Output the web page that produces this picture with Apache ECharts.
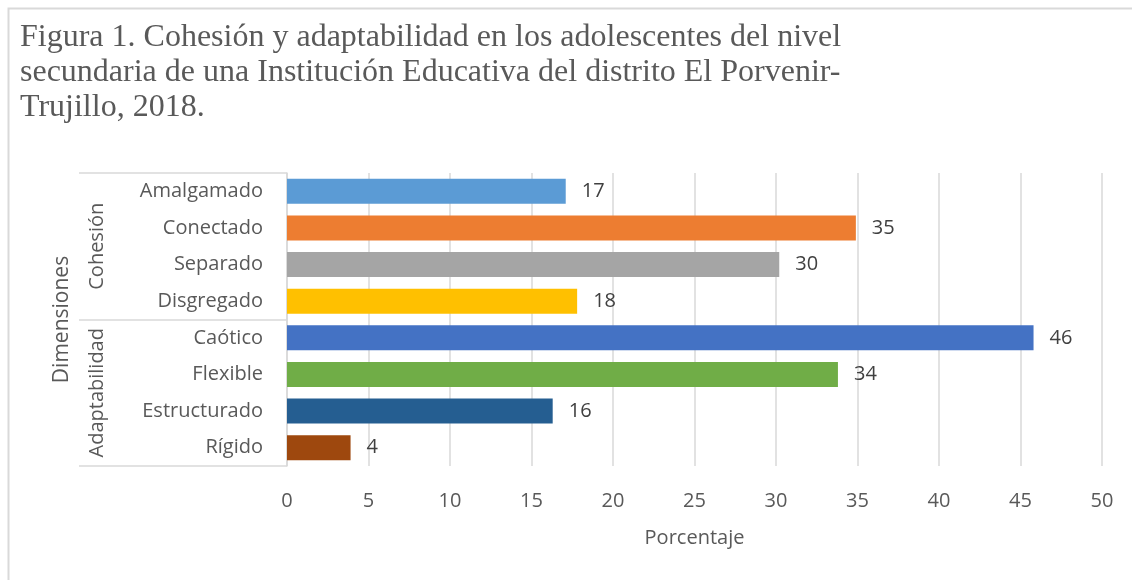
<!DOCTYPE html>
<html>
<head>
<meta charset="utf-8">
<script src="https://cdn.jsdelivr.net/npm/echarts@6/dist/echarts.min.js"></script>
<style>
html,body{margin:0;padding:0;background:#fff;}
#chart{width:1132px;height:580px;}
</style>
</head>
<body>
<div id="chart"></div>
<script>
const titleText = 'Figura 1. Cohesión y adaptabilidad en los adolescentes del nivel\nsecundaria de una Institución Educativa del distrito El Porvenir-\nTrujillo, 2018.';
const categories = ['Amalgamado','Conectado','Separado','Disgregado','Caótico','Flexible','Estructurado','Rígido'];
const groups = ['Cohesión','Adaptabilidad'];
const values = [17.1, 34.9, 30.2, 17.8, 45.8, 33.8, 16.3, 3.9];
const colors = ['#5B9BD5','#ED7D31','#A5A5A5','#FFC000','#4472C4','#70AD47','#255E91','#9E480E'];
const xTicks = {min:0, max:50, interval:5};
const xName = 'Porcentaje';
const yName = 'Dimensiones';

const chart = echarts.init(document.getElementById('chart'), null, {renderer:'canvas'});
const sans = '"Open Sans", "Noto Sans", sans-serif';
chart.setOption({
  animation:false,
  backgroundColor:'#fff',
  title:{
    text:titleText, left:15, top:15,
    textStyle:{fontFamily:'"Liberation Serif", serif', fontSize:32, fontWeight:'normal', color:'#595959', lineHeight:35}
  },
  graphic:[{
    type:'rect', shape:{x:8.5,y:8.5,width:1140,height:600},
    style:{fill:'none', stroke:'#d9d9d9', lineWidth:2}, silent:true
  }],
  grid:{left:287, right:30, top:173, bottom:114, containLabel:false},
  xAxis:{
    type:'value', min:xTicks.min, max:xTicks.max, interval:xTicks.interval,
    axisLine:{show:false}, axisTick:{show:false},
    splitLine:{lineStyle:{color:'#d9d9d9', width:1.5}},
    axisLabel:{fontFamily:sans, fontSize:20, color:'#595959', margin:25},
    name:xName, nameLocation:'middle', nameGap:62,
    nameTextStyle:{fontFamily:sans, fontSize:20, color:'#595959'}
  },
  yAxis:[{
    type:'category', data:categories, inverse:true,
    axisLine:{show:true, lineStyle:{color:'#d9d9d9', width:1.5}},
    axisTick:{show:false},
    axisLabel:{fontFamily:sans, fontSize:20, color:'#595959', margin:24, interval:0}
  },{
    type:'category', data:groups, inverse:true, position:'left', offset:0,
    axisLine:{show:false},
    axisTick:{show:true, interval:0, length:208, lineStyle:{color:'#d9d9d9', width:1.5}},
    axisLabel:{fontFamily:sans, fontSize:20, color:'#595959', rotate:90, margin:180, interval:0, hideOverlap:false},
    name:yName, nameLocation:'middle', nameGap:214, nameRotate:90,
    nameTextStyle:{fontFamily:sans, fontSize:21, color:'#595959'}
  }],
  series:[{
    type:'bar', yAxisIndex:0,
    data:values.map((v,i)=>({value:v, itemStyle:{color:colors[i]}})),
    barWidth:25,
    label:{show:true, position:'right', distance:16, fontFamily:sans, fontSize:20, color:'#404040',
      formatter:p=>Math.round(p.value)}
  }]
});
</script>
</body>
</html>
